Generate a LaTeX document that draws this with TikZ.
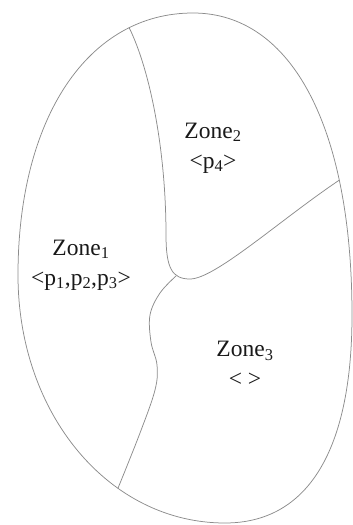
\documentclass[tikz,border=0pt]{standalone}
\usepackage{fontspec}
\setmainfont{Liberation Serif}
\usetikzlibrary{positioning}

\begin{document}
\begin{tikzpicture}[
    x=1pt, y=-1pt,
    border/.style={draw=black!45, line width=0.75pt},
    zonelabel/.style={align=center, font=\fontsize{23.5}{28}\selectfont, text=black!90}
]
\useasboundingbox (0,0) rectangle (353,525);

% extreme points of the region
\coordinate (T) at (193,13);
\coordinate (R) at (352,315);
\coordinate (B) at (225,523);
\coordinate (L) at (18,275);
\coordinate (mid) at (176,276);

% outer region, junctions taken on the curve
\draw[border] (T) .. controls (292,13) and (352,128) .. (R) coordinate[pos=0.73] (right)
    .. controls (352,450) and (308,523) .. (B)
    .. controls (109,523) and (18,414) .. (L) coordinate[pos=0.34] (bottom)
    .. controls (18,118) and (88,13) .. (T) coordinate[pos=0.78] (top);

% inner borders
\draw[border] (top) .. controls (150,70) and (166,150) .. (166,235)
    .. controls (166,268) and (172,279) .. (190,279)
    .. controls (215,279) and (280,220) .. (right);
\draw[border] plot[smooth, tension=0.6] coordinates {
    (mid) (160,293) (150,315) (151,342) (157,365) (155,390) (140,433) (bottom)};

\node[zonelabel] (zone1) at (81,265) {Zone\textsubscript{1}\\[2pt]<p\textsubscript{1},p\textsubscript{2},p\textsubscript{3}>};
\node[zonelabel] (zone2) at (213,148) {Zone\textsubscript{2}\\[2pt]<p\textsubscript{4}>};
\node[zonelabel] (zone3) at (245,364) {Zone\textsubscript{3}\\[2pt]< >};
\end{tikzpicture}
\end{document}
